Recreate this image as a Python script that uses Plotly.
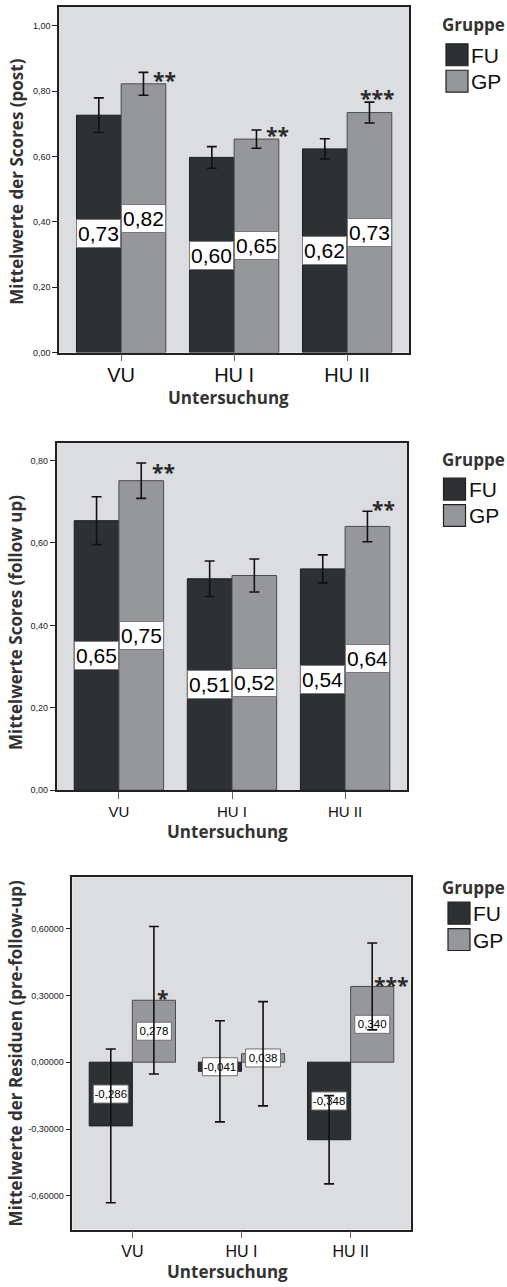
import plotly.graph_objects as go

W, H = 507, 1287

# ---------------- data ----------------
categories = ["VU", "HU I", "HU II"]
groups = ["FU", "GP"]

post_fu = [0.726, 0.597, 0.623]
post_gp = [0.822, 0.653, 0.734]
post_fu_err = [0.053, 0.033, 0.031]
post_gp_err = [0.035, 0.028, 0.032]

fup_fu = [0.654, 0.513, 0.537]
fup_gp = [0.751, 0.521, 0.640]
fup_fu_err = [0.058, 0.043, 0.034]
fup_gp_err = [0.043, 0.040, 0.037]

res_fu = [-0.286, -0.041, -0.348]
res_gp = [0.278, 0.038, 0.340]
res_fu_err = [0.345, 0.227, 0.198]
res_gp_err = [0.331, 0.234, 0.195]

post_ticks = [0.0, 0.2, 0.4, 0.6, 0.8, 1.0]
post_ticktext = ["0,00", "0,20", "0,40", "0,60", "0,80", "1,00"]
fup_ticks = [0.0, 0.2, 0.4, 0.6, 0.8]
fup_ticktext = ["0,00", "0,20", "0,40", "0,60", "0,80"]
res_ticks = [-0.6, -0.3, 0.0, 0.3, 0.6]
res_ticktext = ["-0,60000", "-0,30000", "0,00000", "0,30000", "0,60000"]

# significance stars: (category index position, y value, text)
post_stars_x = [0.38, 1.38, 2.26]
post_stars_y = [0.85, 0.68, 0.795]
post_stars = ["**", "**", "***"]
fup_stars_x = [0.39, 2.34]
fup_stars_y = [0.785, 0.694]
fup_stars = ["**", "**"]
res_stars_x = [0.28, 2.37]
res_stars_y = [0.311, 0.371]
res_stars = ["*", "***"]

# ---------------- style ----------------
DARK = "#2e3134"
GREY = "#96979b"
BG = "#dcdde0"
TITLE_FONT = "Open Sans"
NUM_FONT = "Liberation Sans"
BARGAP = 0.21
OFF = (1 - BARGAP) / 4


def px_x(v):
    return v / W


def px_y(v):
    return 1 - v / H


panels = [
    dict(fu=post_fu, gp=post_gp, fe=post_fu_err, ge=post_gp_err,
         ticks=post_ticks, ticktext=post_ticktext, yr=[0, 1.057],
         dom_x=[59, 409.3], dom_y=[7, 354], xfont=20, tlso=-3,
         ytitle="Mittelwerte der Scores (post)", ytitle_pos=(17, 182.5),
         xtitle_pos=(228, 399.5), legend_top=25, sw_x=446, sw_y=44,
         label_font=21, label_mode="annot", fmt="{:.2f}",
         sx=post_stars_x, sy=post_stars_y, st=post_stars),
    dict(fu=fup_fu, gp=fup_gp, fe=fup_fu_err, ge=fup_gp_err,
         ticks=fup_ticks, ticktext=fup_ticktext, yr=[0, 0.8435],
         dom_x=[56.7, 407.3], dom_y=[444.3, 793.3], xfont=15, tlso=0,
         ytitle="Mittelwerte Scores (follow up)", ytitle_pos=(15.5, 625),
         xtitle_pos=(227.5, 834.5), legend_top=461.7, sw_x=443.5, sw_y=480,
         label_font=21, label_mode="annot", fmt="{:.2f}",
         sx=fup_stars_x, sy=fup_stars_y, st=fup_stars),
    dict(fu=res_fu, gp=res_gp, fe=res_fu_err, ge=res_gp_err,
         ticks=res_ticks, ticktext=res_ticktext, yr=[-0.751, 0.830],
         dom_x=[72.3, 410.7], dom_y=[880.7, 1234.3], xfont=16, tlso=0,
         ytitle="Mittelwerte der Residuen (pre-follow-up)", ytitle_pos=(15, 1057.5),
         xtitle_pos=(227.7, 1276.5), legend_top=890.7, sw_x=448, sw_y=905.7,
         label_font=11.5, label_mode="bar", box_h=0.081, box_w=0.32, fmt="{:.3f}",
         sx=res_stars_x, sy=res_stars_y, st=res_stars),
]

fig = go.Figure()
annotations = []
shapes = []
layout_axes = {}

for k, p in enumerate(panels):
    n = "" if k == 0 else str(k + 1)
    xa, ya = "x" + n, "y" + n
    series = [("FU", p["fu"], p["fe"], DARK, "#1c1d1f", -1),
              ("GP", p["gp"], p["ge"], GREY, "#4a4b4d", 1)]
    in_front = p["label_mode"] == "bar"
    # main bars (error bars attached unless labels must sit beneath them)
    for name, vals, errs, col, lc, sign in series:
        fig.add_trace(go.Bar(
            x=categories, y=vals, name=name, showlegend=False, offsetgroup=name,
            marker=dict(color=col, line=dict(color=lc, width=1)),
            error_y=dict(type="data", array=errs, visible=not in_front,
                         color="#111111", thickness=1.6, width=5),
            xaxis=xa, yaxis=ya, hoverinfo="skip",
        ))
    labels = {name: [p["fmt"].format(v).replace(".", ",") for v in vals]
              for name, vals, *_ in series}
    if in_front:
        # white label boxes as bars, then error bars drawn over them
        for name, vals, errs, col, lc, sign in series:
            fig.add_trace(go.Bar(
                x=categories, y=[p["box_h"]] * len(vals),
                base=[v / 2 - p["box_h"] / 2 for v in vals],
                width=p["box_w"], offsetgroup=name, showlegend=False,
                marker=dict(color="#ffffff", line=dict(color="#6f6f6f", width=1)),
                text=labels[name], textposition="inside", insidetextanchor="middle",
                textangle=0, constraintext="none",
                insidetextfont=dict(family=NUM_FONT, size=p["label_font"], color="#000000"),
                xaxis=xa, yaxis=ya, hoverinfo="skip",
            ))
        for name, vals, errs, col, lc, sign in series:
            fig.add_trace(go.Bar(
                x=categories, y=vals, offsetgroup=name, showlegend=False,
                marker=dict(color="rgba(0,0,0,0)", line=dict(width=0)),
                error_y=dict(type="data", array=errs, visible=True,
                             color="#111111", thickness=1.6, width=5),
                xaxis=xa, yaxis=ya, hoverinfo="skip",
            ))
    else:
        for name, vals, errs, col, lc, sign in series:
            for ci, v in enumerate(vals):
                annotations.append(dict(
                    x=ci + sign * OFF, y=v / 2, xref=xa, yref=ya,
                    text=labels[name][ci], showarrow=False,
                    font=dict(family=NUM_FONT, size=p["label_font"], color="#000000"),
                    bgcolor="#ffffff", bordercolor="#7a7a7a", borderwidth=1,
                    width=42, height=26, borderpad=0.5,
                    xanchor="center", yanchor="middle"))

    layout_axes["xaxis" + n] = dict(
        domain=[px_x(p["dom_x"][0]), px_x(p["dom_x"][1])],
        anchor=ya, type="category", range=[-0.55, 2.55],
        showline=True, mirror=True, linecolor="#222222", linewidth=1.5,
        ticks="outside", ticklen=7, tickcolor="#666666", tickwidth=1.2,
        ticklabelstandoff=p["tlso"],
        tickfont=dict(family=NUM_FONT, size=p["xfont"], color="#111111"),
        showgrid=False, zeroline=False, fixedrange=True,
    )
    layout_axes["yaxis" + n] = dict(
        domain=[px_y(p["dom_y"][1]), px_y(p["dom_y"][0])],
        anchor=xa, range=p["yr"],
        tickvals=p["ticks"], ticktext=p["ticktext"],
        showline=True, mirror=True, linecolor="#222222", linewidth=1.5,
        ticks="outside", ticklen=5, tickcolor="#222222", tickwidth=1,
        tickfont=dict(family=NUM_FONT, size=9, color="#222222"),
        showgrid=False, zeroline=False, fixedrange=True,
    )

    # stars
    for sx, sy, st in zip(p["sx"], p["sy"], p["st"]):
        annotations.append(dict(x=sx, y=sy, xref=xa, yref=ya, text="<b>%s</b>" % st,
                                showarrow=False,
                                font=dict(family=TITLE_FONT, size=21, color="#2a2a2a"),
                                xanchor="center", yanchor="middle", yshift=-5))

    # axis titles
    tx, ty = p["ytitle_pos"]
    annotations.append(dict(x=px_x(tx), y=px_y(ty), xref="paper", yref="paper",
                            text="<b>%s</b>" % p["ytitle"], textangle=-90, showarrow=False,
                            font=dict(family=TITLE_FONT, size=17, color="#333333"),
                            xanchor="center", yanchor="middle"))
    tx, ty = p["xtitle_pos"]
    annotations.append(dict(x=px_x(tx), y=px_y(ty), xref="paper", yref="paper",
                            text="<b>Untersuchung</b>", showarrow=False,
                            font=dict(family=TITLE_FONT, size=17, color="#333333"),
                            xanchor="center", yanchor="middle"))

    # legend (custom, large swatches)
    annotations.append(dict(x=px_x(440), y=px_y(p["legend_top"]), xref="paper", yref="paper",
                            text="<b>Gruppe</b>", showarrow=False,
                            font=dict(family=TITLE_FONT, size=17, color="#333333"),
                            xanchor="left", yanchor="middle"))
    for gi, (gname, col) in enumerate(zip(groups, [DARK, GREY])):
        y0 = p["sw_y"] + gi * 26.5
        shapes.append(dict(type="rect", xref="paper", yref="paper",
                           x0=px_x(p["sw_x"]), x1=px_x(p["sw_x"] + 22),
                           y0=px_y(y0), y1=px_y(y0 + 22),
                           fillcolor=col, line=dict(color="#222222", width=1.2)))
        annotations.append(dict(x=px_x(p["sw_x"] + 23), y=px_y(y0 + 11.5),
                                xref="paper", yref="paper", text=gname, showarrow=False,
                                font=dict(family=NUM_FONT, size=21, color="#111111"),
                                xanchor="left", yanchor="middle"))

fig.update_layout(
    width=W, height=H,
    margin=dict(l=0, r=0, t=0, b=0),
    paper_bgcolor="#ffffff", plot_bgcolor=BG,
    barmode="group", bargap=BARGAP, bargroupgap=0,
    annotations=annotations, shapes=shapes,
    showlegend=False,
    **layout_axes,
)

fig.write_html("out.html", config={"displayModeBar": False},
               post_script="document.body.style.margin='0';document.body.style.overflow='hidden';")
